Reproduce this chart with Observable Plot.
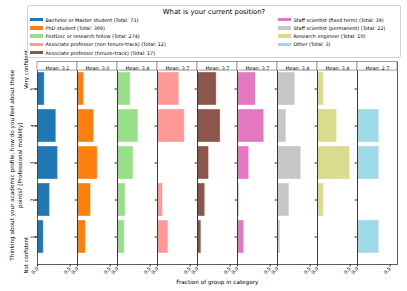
<!DOCTYPE html>
<html><head><meta charset="utf-8">
<script src="https://cdn.jsdelivr.net/npm/d3@7"></script>
<script src="https://cdn.jsdelivr.net/npm/@observablehq/plot@0.6"></script>
<style>
body{margin:0;background:#fff;font-family:"DejaVu Sans",sans-serif;}
#wrap{position:relative;width:407px;height:291px;overflow:hidden;background:#fff;}
#legend{position:absolute;left:27px;top:5px;width:374px;height:53px;border:0.8px solid #d0d0d0;border-radius:2px;background:#fff;box-sizing:border-box;}
#legend .title{position:absolute;left:0;width:100%;top:1.5px;text-align:center;font-size:6.8px;line-height:8px;color:#000;}
#legend .item{position:absolute;font-size:4.9px;line-height:8px;height:8px;color:#000;white-space:nowrap;}
#legend .sw{display:inline-block;width:13px;height:3.6px;vertical-align:middle;margin-right:3px;position:relative;top:-0.5px;}
#xlabel{position:absolute;top:278px;left:33.3px;width:368px;text-align:center;font-size:5.7px;line-height:8px;}
</style></head>
<body><div id="wrap"><div id="chart"></div><div id="legend"></div><div id="xlabel"></div></div>
<script>
const groups = [
  "Bachelor or Master student",
  "PhD student",
  "PostDoc or research fellow",
  "Associate professor (non tenure-track)",
  "Associate professor (tenure-track)",
  "Staff scientist (fixed term)",
  "Staff scientist (permanent)",
  "Research engineer",
  "Other"
];
const totals = [73, 309, 274, 12, 17, 39, 22, 10, 3];
const means = ["3.1", "3.0", "3.4", "3.7", "3.7", "3.7", "3.4", "3.4", "2.7"];
const colors = ["#1f77b4", "#ff7f0e", "#98df8a", "#ff9896", "#8c564b", "#e377c2", "#c7c7c7", "#dbdb8d", "#9edae5"];
const levels = [1, 2, 3, 4, 5];
// fraction of each group per confidence level (levels 1..5)
const fractions = [
  [0.096, 0.192, 0.315, 0.288, 0.110],
  [0.130, 0.205, 0.310, 0.255, 0.100],
  [0.110, 0.125, 0.245, 0.320, 0.200],
  [0.167, 0.083, 0.000, 0.417, 0.333],
  [0.059, 0.118, 0.176, 0.353, 0.294],
  [0.103, 0.026, 0.179, 0.410, 0.282],
  [0.045, 0.182, 0.364, 0.136, 0.273],
  [0.000, 0.100, 0.500, 0.300, 0.100],
  [0.333, 0.000, 0.333, 0.333, 0.000]
];
const xTicks = [0, 0.5];
const legendTitle = "What is your current position?";
const yLabel = "Thinking about your academic profile, how do you feel about these\npoints? [Professional mobility]";
const xLabel = "Fraction of group in category";
const topLabel = "Very confident";
const bottomLabel = "Not confident";

const rows = [];
groups.forEach((g, i) => levels.forEach((l, j) => rows.push({group: g, level: l, fraction: fractions[i][j]})));
const headers = groups.map((g, i) => ({group: g, text: "Mean: " + means[i]}));

function headerBoxes(index, scales, values, dimensions) {
  const {marginLeft, marginRight, marginTop, width} = dimensions;
  const g = d3.create("svg:g");
  g.append("rect")
    .attr("x", marginLeft).attr("y", marginTop)
    .attr("width", width - marginLeft - marginRight).attr("height", 8.6)
    .attr("fill", "white").attr("stroke", "#8a8a8a").attr("stroke-width", 0.8);
  return g.node();
}

const chart = Plot.plot({
  width: 407, height: 291,
  marginTop: 61.5, marginBottom: 27, marginLeft: 33.3, marginRight: 6,
  style: {fontFamily: "DejaVu Sans", fontSize: "4.8px", background: "transparent", overflow: "visible", color: "#000"},
  fx: {domain: groups, padding: 0, axis: null},
  x: {domain: [0, 0.613]},
  y: {type: "band", domain: [5, 4, 3, 2, 1], paddingInner: 0.1, paddingOuter: 0.25},
  color: {domain: groups, range: colors},
  marks: [
    Plot.barX(rows, {fx: "group", y: "level", x: "fraction", fill: "group", stroke: "white", strokeOpacity: 0.45, strokeWidth: 0.8}),
    Plot.frame({stroke: "#333", strokeWidth: 0.8}),
    headerBoxes,
    Plot.text(headers, {fx: "group", text: "text", frameAnchor: "top", dy: 4.4, fontSize: 4.8, fill: "#000"}),
    Plot.axisX({ticks: xTicks, tickFormat: d3.format(".1f"), tickRotate: -45, tickSize: 2.5, tickPadding: 1, label: null, fontSize: 4.8, stroke: "#333"}),
    Plot.axisY({tickSize: 2.5, tickPadding: 1.2, tickRotate: -90, label: null, fontSize: 4.8, stroke: "#333"}),
    Plot.axisY({tickSize: 2.5, tickFormat: () => "", label: null, facetAnchor: null, stroke: "#333"}),
    Plot.text([{group: groups[0], level: 5, t: topLabel}], {fx: "group", y: "level", text: "t", frameAnchor: "left", dx: -11, rotate: -90, textAnchor: "start", fontSize: 5.4, fill: "#000"}),
    Plot.text([{group: groups[0], level: 1, t: bottomLabel}], {fx: "group", y: "level", text: "t", frameAnchor: "left", dx: -11, rotate: -90, textAnchor: "end", fontSize: 5.4, fill: "#000"}),
    Plot.text([{group: groups[0], t: yLabel}], {fx: "group", text: "t", frameAnchor: "left", dx: -22.5, dy: 2, rotate: -90, textAnchor: "middle", lineAnchor: "middle", lineHeight: 1.4, fontSize: 5.7, fill: "#000"})
  ]
});
document.getElementById("chart").appendChild(chart);

const legend = document.getElementById("legend");
const t = document.createElement("div");
t.className = "title"; t.textContent = legendTitle;
legend.appendChild(t);
groups.forEach((g, i) => {
  const col = i < 5 ? 0 : 1;
  const row = i < 5 ? i : i - 5;
  const it = document.createElement("div");
  it.className = "item";
  it.style.left = (col === 0 ? 1.5 : 249.5) + "px";
  it.style.top = (9.5 + row * 8.25) + "px";
  const sw = document.createElement("span");
  sw.className = "sw"; sw.style.background = colors[i];
  it.appendChild(sw);
  it.appendChild(document.createTextNode(g + " (Total: " + totals[i] + ")"));
  legend.appendChild(it);
});
document.getElementById("xlabel").textContent = xLabel;
</script>
</body></html>
